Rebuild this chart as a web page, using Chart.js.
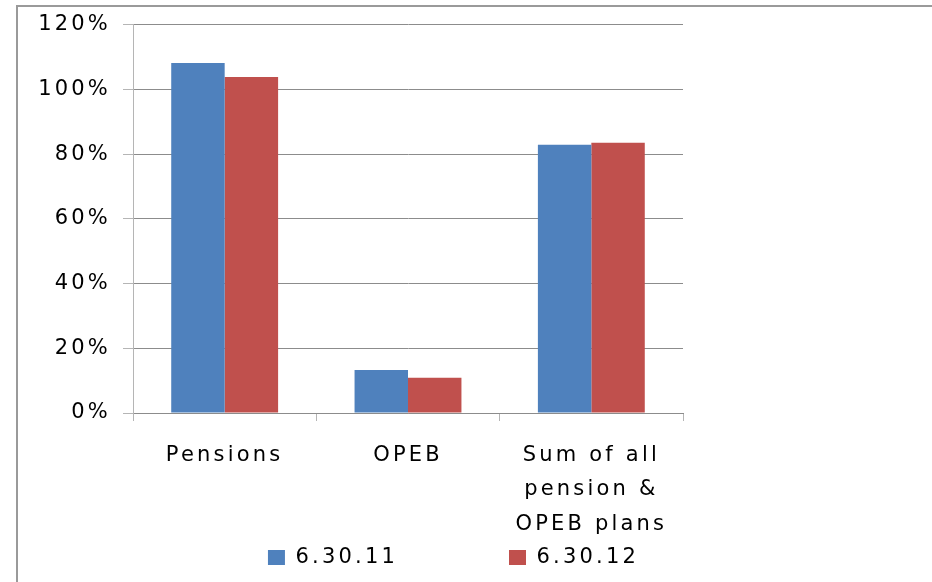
<!DOCTYPE html>
<html>
<head>
<meta charset="utf-8">
<script src="https://cdn.jsdelivr.net/npm/chart.js@4.4.1/dist/chart.umd.min.js"></script>
<style>
    html, body { margin: 0; padding: 0; background: #fff; overflow: hidden; }
    #wrap { position: relative; width: 932px; height: 582px; }
    #frame {
        position: absolute; left: 16px; top: 5px; right: -20px; bottom: -20px;
        border-left: 2px solid #9a9a9a; border-top: 2px solid #9a9a9a;
    }
    #chart { position: absolute; left: 0; top: 0; }
</style>
</head>
<body>
<div id="wrap">
    <div id="frame"></div>
    <canvas id="chart" width="932" height="582"></canvas>
</div>
<script>
/* ── Chart data ── */
const categories = ['Pensions', 'OPEB', ['Sum of all', 'pension &', 'OPEB plans']];
const seriesNames = ['6.30.11', '6.30.12'];
const funded2011 = [108.1, 13.3, 82.9];
const funded2012 = [103.8, 10.9, 83.5];
const yTicks = [0, 20, 40, 60, 80, 100, 120];

const seriesColors = ['#4F81BD', '#C0504D'];
const FONT = "'DejaVu Sans', sans-serif";
const SPACING = '3.2px';

// letter spacing to mimic the stretched text of the original
const spacingPlugin = {
    id: 'spacing',
    beforeLayout(chart) { chart.ctx.letterSpacing = SPACING; },
    beforeDraw(chart) { chart.ctx.letterSpacing = SPACING; },
    afterLayout(chart) {
        // move legend under the axis labels, centred like the original
        // (legend clips to its own box, so the box must cover the items)
        const lg = chart.legend;
        if (!lg) return;
        lg.left = 0;
        lg.right = 907;
        lg.width = 907;
        lg.top = 436;
        lg.bottom = 582;
        lg.height = lg.bottom - lg.top;
    }
};

new Chart(document.getElementById('chart').getContext('2d'), {
    type: 'bar',
    data: {
        labels: categories,
        datasets: [
            { label: seriesNames[0], data: funded2011, backgroundColor: seriesColors[0] },
            { label: seriesNames[1], data: funded2012, backgroundColor: seriesColors[1] }
        ]
    },
    options: {
        responsive: false,
        animation: false,
        devicePixelRatio: 1,
        categoryPercentage: 0.583,
        barPercentage: 1,
        layout: { padding: { top: 23, right: 249, bottom: 0, left: 0 } },
        scales: {
            x: {
                afterFit(scale) { scale.height = 129; },
                grid: {
                    drawOnChartArea: false,
                    tickLength: 8,
                    tickColor: '#b5b5b5',
                    offset: true
                },
                border: { color: '#8c8c8c', width: 1 },
                ticks: {
                    color: '#000',
                    padding: 18,
                    maxRotation: 0,
                    autoSkip: false,
                    font: { family: FONT, size: 21, lineHeight: 1.62 }
                }
            },
            y: {
                min: 0,
                max: 120,
                afterFit(scale) { scale.width = 133; },
                afterBuildTicks(scale) {
                    scale.ticks = yTicks.map(function (v) { return { value: v }; });
                },
                grid: {
                    color: '#8c8c8c',
                    tickColor: '#b5b5b5',
                    tickLength: 10
                },
                border: { color: '#b5b5b5', width: 1 },
                ticks: {
                    color: '#000',
                    padding: 12,
                    font: { family: FONT, size: 21 },
                    callback: function (v) { return v + '%'; }
                }
            }
        },
        plugins: {
            tooltip: { enabled: false },
            legend: {
                position: 'bottom',
                maxHeight: 40,
                labels: {
                    color: '#000',
                    boxWidth: 17,
                    boxHeight: 15,
                    padding: 111,
                    font: { family: FONT, size: 21 }
                }
            }
        }
    },
    plugins: [spacingPlugin]
});
</script>
</body>
</html>
